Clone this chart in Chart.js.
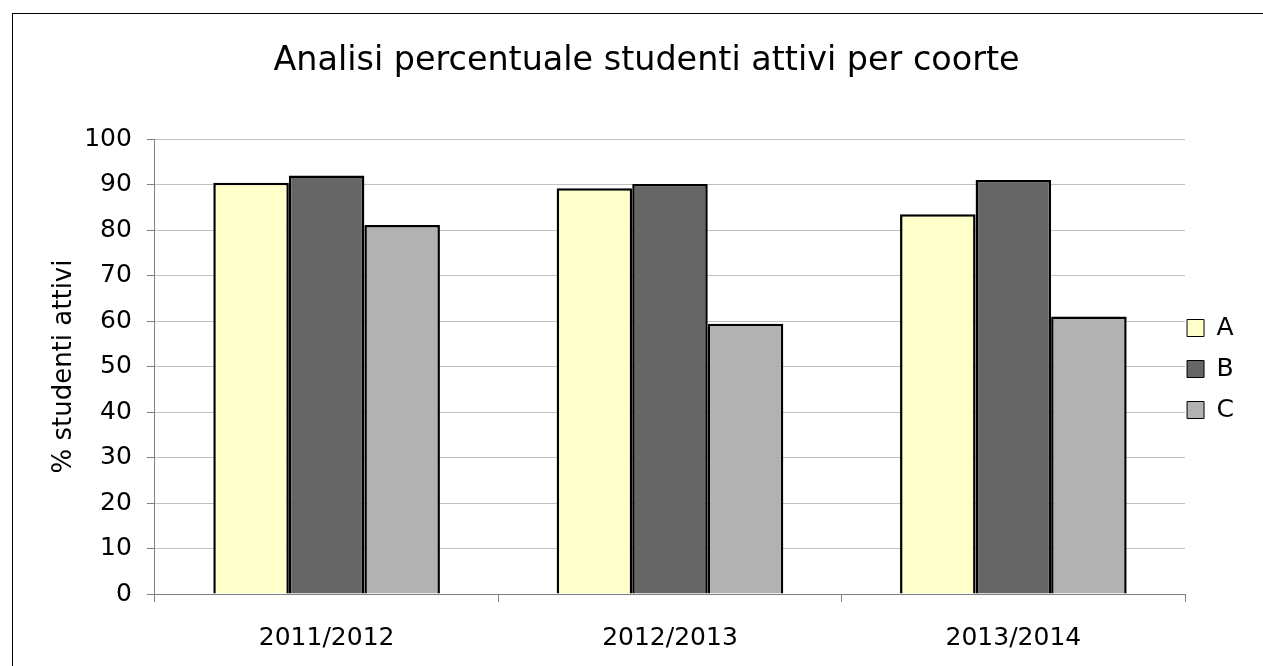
<!DOCTYPE html>
<html>
<head>
<meta charset="utf-8">
<script src="https://cdn.jsdelivr.net/npm/chart.js@4/dist/chart.umd.min.js"></script>
<style>
  body { margin: 0; background: #fff; }
  #frame { position: absolute; left: 12px; top: 13px; width: 1262px; height: 660px;
           border-left: 1px solid #000; border-top: 1px solid #000; }
  #wrap { position: absolute; left: 0; top: 0; width: 1262px; height: 660px; }
</style>
</head>
<body>
<div id="frame"><div id="wrap"><canvas id="myChart"></canvas></div></div>
<script>
var categories = ['2011/2012', '2012/2013', '2013/2014'];
var seriesA = [90.4, 89.2, 83.5];
var seriesB = [92.0, 90.1, 91.0];
var seriesC = [81.1, 59.4, 61.0];

var ctx = document.getElementById('myChart').getContext('2d');
var myChart = new Chart(ctx, {
    type: 'bar',
    data: {
        labels: categories,
        datasets: [
            { label: 'A', data: seriesA, backgroundColor: '#ffffcc', borderColor: '#000', borderWidth: 2.5 },
            { label: 'B', data: seriesB, backgroundColor: '#666666', borderColor: '#000', borderWidth: 2.5 },
            { label: 'C', data: seriesC, backgroundColor: '#b2b2b2', borderColor: '#000', borderWidth: 2.5 }
        ]
    },
    options: {
        responsive: true,
        maintainAspectRatio: false,
        animation: false,
        categoryPercentage: 0.66,
        barPercentage: 1.0,
        layout: { padding: { left: 36, right: 31, top: 0, bottom: 0 } },
        plugins: {
            title: {
                display: true,
                text: 'Analisi percentuale studenti attivi per coorte',
                color: '#000',
                font: { family: 'DejaVu Sans', size: 33.4, weight: 'normal' },
                padding: { top: 27, bottom: 58 }
            },
            legend: {
                position: 'right',
                title: { display: true, text: '', padding: 0, font: { size: 10, lineHeight: '64px' } },
                labels: {
                    color: '#000',
                    font: { family: 'DejaVu Sans', size: 25, lineHeight: '39px' },
                    boxWidth: 17,
                    boxHeight: 17,
                    padding: 2,
                    generateLabels: function (chart) {
                        var items = Chart.defaults.plugins.legend.labels.generateLabels(chart);
                        items.forEach(function (it) { it.lineWidth = 1; it.text = [it.text]; });
                        return items;
                    }
                }
            },
            tooltip: { enabled: false }
        },
        scales: {
            x: {
                grid: { offset: true, drawOnChartArea: false, tickLength: 8, color: '#808080' },
                border: { color: '#808080' },
                ticks: { color: '#000', font: { family: 'DejaVu Sans', size: 25 }, padding: 21 }
            },
            y: {
                min: 0,
                max: 100,
                ticks: { stepSize: 10, color: '#000', font: { family: 'DejaVu Sans', size: 25 }, padding: 15 },
                grid: { color: '#c0c0c0', tickColor: '#808080', tickLength: 8 },
                border: { color: '#808080' },
                title: {
                    display: true,
                    text: '% studenti attivi',
                    color: '#000',
                    font: { family: 'DejaVu Sans', size: 26 },
                    padding: { top: 0, bottom: -11 }
                }
            }
        }
    }
});
</script>
</body>
</html>
